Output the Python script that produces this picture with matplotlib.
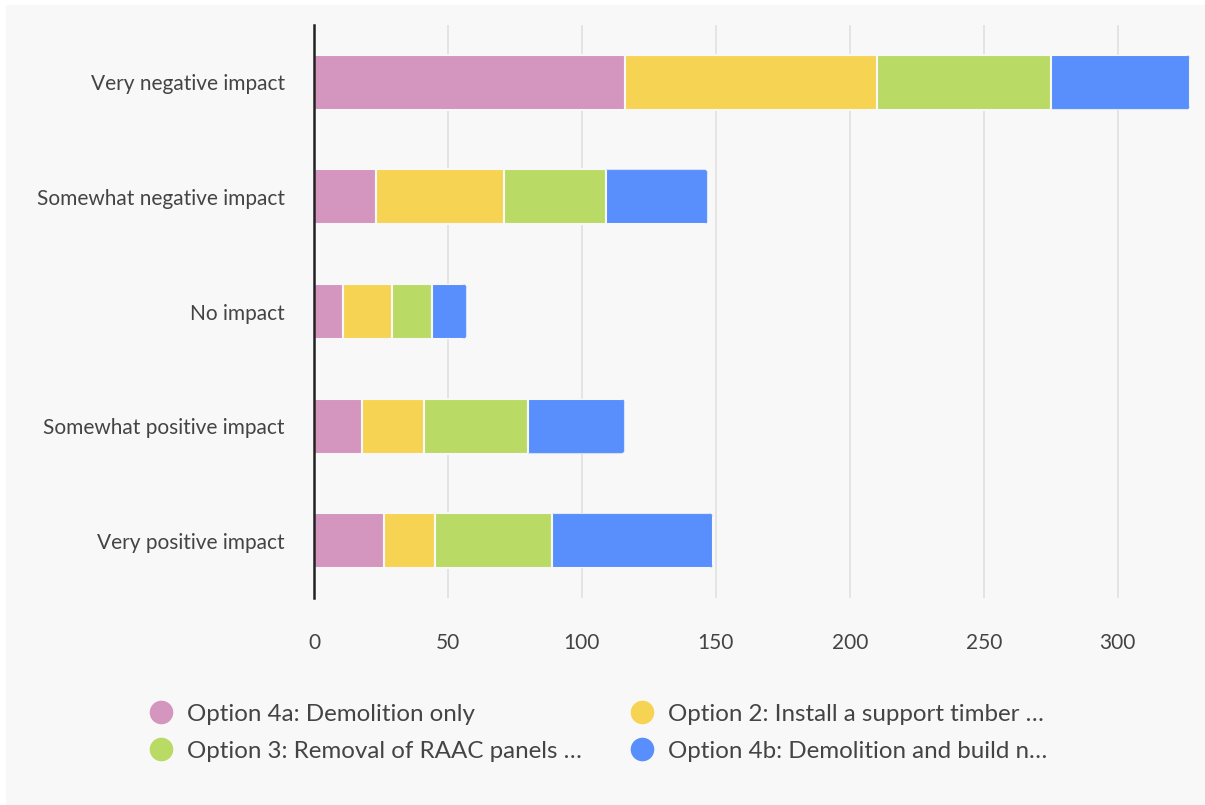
import numpy as np
import matplotlib.pyplot as plt
from matplotlib.patches import FancyBboxPatch, Rectangle
from matplotlib.lines import Line2D

plt.rcParams['font.family'] = ['Lato', 'DejaVu Sans']

# survey responses per impact level, stacked by option
categories = ['Very negative impact', 'Somewhat negative impact', 'No impact',
              'Somewhat positive impact', 'Very positive impact']
series_names = ['Option 4a: Demolition only',
                'Option 2: Install a support timber …',
                'Option 3: Removal of RAAC panels …',
                'Option 4b: Demolition and build n…']
opt_4a = [116, 23, 11, 18, 26]
opt_2 = [94, 48, 18, 23, 19]
opt_3 = [65, 38, 15, 39, 44]
opt_4b = [52, 38, 13, 36, 60]
xticks = [0, 50, 100, 150, 200, 250, 300]

colors = ['#d495be', '#f7d354', '#bada66', '#588ffc']
bg = '#f9f8f8'
txt = '#444444'

fig = plt.figure(figsize=(12.05, 8.05), dpi=100)
fig.patch.set_facecolor('white')
fig.patches.append(Rectangle((6 / 1205, 0), 1 - 6 / 1205, 1 - 5 / 805,
                             transform=fig.transFigure, facecolor=bg,
                             edgecolor='none', zorder=-10))

ax = fig.add_axes([314 / 1205, 1 - 598 / 805, 884 / 1205, 573 / 805])
ax.set_facecolor(bg)

y = np.arange(len(categories))
left = np.zeros(len(categories))
bar_h = 0.48
all_series = [opt_4a, opt_2, opt_3, opt_4b]
for k, vals in enumerate(all_series):
    vals = np.array(vals, dtype=float)
    bars = ax.barh(y, vals, left=left, height=bar_h, color=colors[k],
                   edgecolor=bg, linewidth=1.5, zorder=3)
    if k == len(all_series) - 1:
        # round off the far end of each stacked bar
        for b, l, v, yy in zip(bars, left, vals, y):
            clip = FancyBboxPatch((l - 5, yy - bar_h / 2), v + 5, bar_h,
                                  boxstyle='round,pad=0,rounding_size=1.8',
                                  mutation_aspect=0.0234,
                                  transform=ax.transData)
            b.set_clip_path(clip)
    left += vals

ax.set_ylim(len(categories) - 0.5, -0.5)
ax.set_xlim(0, 330)
ax.set_yticks(y)
ax.set_yticklabels(categories, fontsize=15, color=txt)
ax.set_xticks(xticks)
ax.set_xticklabels([str(t) for t in xticks], fontsize=15, color=txt)
ax.tick_params(axis='both', length=0)
ax.tick_params(axis='y', pad=21)
ax.tick_params(axis='x', pad=25)
ax.grid(axis='x', color='#e2e1e1', linewidth=1.2, zorder=0)
for s in ['top', 'right', 'bottom']:
    ax.spines[s].set_visible(False)
ax.spines['left'].set_color('#222222')
ax.spines['left'].set_linewidth(1.8)
ax.spines['left'].set_zorder(4)

handles = [Line2D([], [], marker='o', linestyle='none', markersize=17,
                  markerfacecolor=c, markeredgecolor='none') for c in colors]
order = [0, 2, 1, 3]
leg = fig.legend([handles[i] for i in order], [series_names[i] for i in order],
                 ncol=2, loc='upper left', bbox_to_anchor=(127 / 1205, 1 - 682 / 805),
                 frameon=False, fontsize=17.4, labelcolor=txt,
                 handletextpad=0.58, columnspacing=2.0, labelspacing=0.66,
                 handlelength=1.0)

fig.savefig('out.png', dpi=100, facecolor=fig.get_facecolor())
